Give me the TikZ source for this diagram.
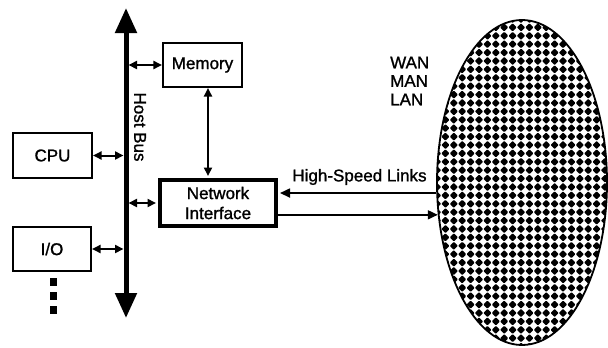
\documentclass[tikz,border=0pt]{standalone}
\usepackage{fontspec}
\setmainfont[FakeBold=1.2]{Liberation Sans}
\usetikzlibrary{arrows.meta,shapes.geometric}
\newcommand\diagfont{\fontsize{17}{20}\selectfont}
\begin{document}
\begin{tikzpicture}[x=1pt,y=-1pt,
  box/.style={draw, line width=1.6pt, inner sep=0pt, font=\diagfont},
  link/.style={line width=2pt, {Triangle[length=8.5pt,width=8pt]}-{Triangle[length=8.5pt,width=8pt]}},
  hslink/.style={line width=1.7pt, -{Triangle[length=10pt,width=9pt]}},
  label/.style={font=\diagfont, inner sep=0pt}]
\path[use as bounding box] (0,0) rectangle (608,348);

% boxes
\node[box, minimum width=79.5pt, minimum height=44.5pt] (mem) at (202.5,65) {Memory};
\node[box, minimum width=79.5pt, minimum height=45.5pt] (cpu) at (52.5,155.5) {CPU};
\node[box, minimum width=78.5pt, minimum height=44.5pt] (io) at (52,249) {I/O};
\node[box, line width=4pt, minimum width=116pt, minimum height=46pt, align=center]
  (ni) at (218,203) {Network\\Interface};

% continuation marks under I/O
\foreach \k/\yy in {1/282,2/296,3/310}
  \node[fill, minimum width=7pt, minimum height=8pt, inner sep=0pt] (more\k) at (53.5,\yy) {};

% host bus
\coordinate (bustop) at (126,8);
\coordinate (busbot) at (126,318);
\draw[line width=5pt, {Triangle[length=25pt,width=21pt]}-{Triangle[length=25pt,width=21pt]}] (bustop) -- (busbot);
\node[label, rotate=-90] (hb) at (140,127) {Host Bus};

% bus attachments
\draw[link, shorten >=2.5pt] (mem.west) -- (mem.west -| bustop);
\draw[link, shorten >=2.5pt] (cpu.east) -- (cpu.east -| bustop);
\draw[link, shorten >=2.5pt, shorten <=2pt] (ni.west) -- (ni.west -| bustop);
\draw[link, shorten >=2.5pt] (io.east) -- (io.east -| bustop);

% memory to network interface
\draw[link, shorten >=2pt] ([xshift=5.5pt]mem.south) -- ([xshift=5.5pt]mem.south |- ni.north);

% network cloud with dotted fill
\begin{scope}
  \clip (522,182.5) ellipse [x radius=85, y radius=162.5];
  \foreach \i in {0,...,21}
    \foreach \j in {0,...,39}
      \fill[shift={({437+8.4*\i},{19+8.4*\j})}, rounded corners=0.8pt]
        (-4.1,0) -- (0,-4.1) -- (4.1,0) -- (0,4.1) -- cycle;
\end{scope}
\node[draw, ellipse, line width=1.8pt, minimum width=170pt, minimum height=325pt, inner sep=0pt]
  (net) at (522,182.5) {};

\node[label, anchor=west, align=left, font=\fontsize{17}{18.5}\selectfont] (kinds) at (390,81) {WAN\\MAN\\LAN};

% high-speed links
\node[label] (hsl) at (359.5,177) {High-Speed Links};
\draw[hslink, shorten >=2pt] (net.187) -- (net.187 -| ni.east);
\draw[hslink] (net.201 -| ni.east) -- (net.201);
\end{tikzpicture}
\end{document}
